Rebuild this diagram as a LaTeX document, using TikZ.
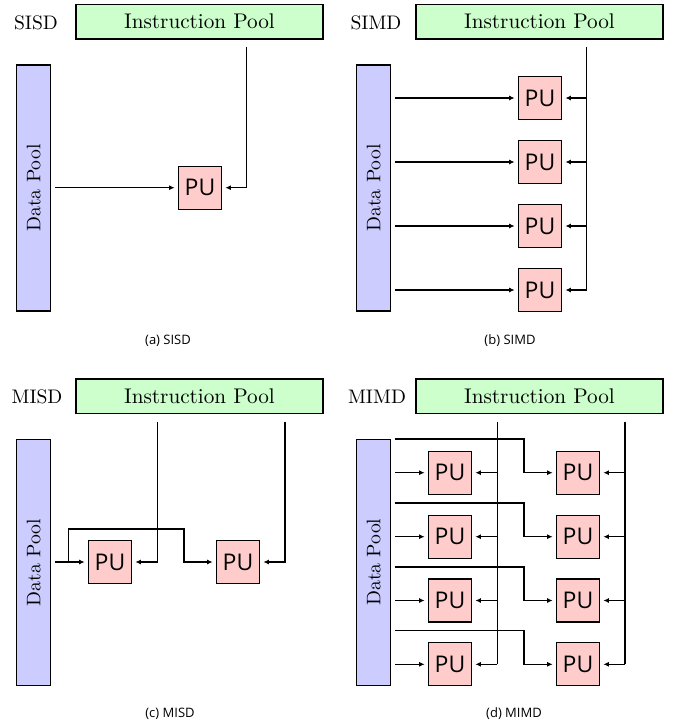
\documentclass[tikz,border=0pt]{standalone}
\usepackage{fontspec}
\newfontfamily\pufont{Open Sans}
\newfontfamily\cmten{lmroman10-regular.otf}
\usetikzlibrary{arrows.meta}
\definecolor{ipgreen}{RGB}{204,255,204}
\definecolor{dpblue}{RGB}{204,204,255}
\definecolor{pupink}{RGB}{255,204,204}
\newcommand{\serifbig}{\cmten\fontsize{19.6}{23}\selectfont}
\newcommand{\serifip}{\cmten\fontsize{21.2}{25}\selectfont}
\begin{document}
\begin{tikzpicture}[x=1pt,y=-1pt,
  ipool/.style={draw=black, line width=1.2pt, fill=ipgreen, minimum width=247pt, minimum height=34.5pt, inner sep=0pt, font=\serifip},
  dpool/.style={draw=black, line width=1.2pt, fill=dpblue, minimum width=34pt, minimum height=246pt, inner sep=0pt},
  dptext/.style={rotate=90, font=\serifbig, inner sep=0pt},
  pubox/.style={draw=black, line width=1.2pt, fill=pupink, minimum width=43.5pt, minimum height=43pt, inner sep=0pt, font=\pufont\fontsize{23}{26}\selectfont},
  plabel/.style={anchor=base, font=\serifbig, inner sep=0pt},
  caption/.style={font=\pufont\fontsize{13}{15}\selectfont, inner sep=0pt},
  conn/.style={line width=1.5pt},
  ar/.style={conn, -{Latex[length=5.5pt,width=5pt]}, shorten >=3pt},
  darr/.style={ar, shorten <=4pt}
]
\useasboundingbox (0,0) rectangle (684,726);

% ---------------- (a) SISD ----------------
\node[ipool] (ipA) at (199.5,21.7) {Instruction Pool};
\node[plabel] (labA) at (36,29.5) {SISD};
\node[dpool] (dpA) at (33.7,188) {};
\node[dptext] (dpAt) at (dpA) {Data Pool};
\node[pubox] (puA) at (200,187.7) {PU};
\draw[darr] (dpA.east |- puA.west) -- (puA.west);
\coordinate (iA) at (246.7,46.7);
\draw[ar] (iA) |- (puA.east);
\node[caption] (capA) at (168,341) {(a) SISD};

% ---------------- (b) SIMD ----------------
\node[ipool] (ipB) at (539.5,21.7) {Instruction Pool};
\node[plabel] (labB) at (376,29.5) {SIMD};
\node[dpool] (dpB) at (373.7,188) {};
\node[dptext] (dpBt) at (dpB) {Data Pool};
\foreach \k/\yy in {1/98,2/162,3/226,4/290}{
  \node[pubox] (puB\k) at (540,\yy) {PU};
}
\coordinate (iB) at (586.7,46.7);
\draw[conn] (iB) -- (iB |- puB4.east);
\foreach \k in {1,2,3,4}{
  \draw[darr] (dpB.east |- puB\k.west) -- (puB\k.west);
  \draw[ar] (iB |- puB\k.east) -- (puB\k.east);
}
\node[caption] (capB) at (510,341) {(b) SIMD};

% ---------------- (c) MISD ----------------
\node[ipool] (ipC) at (199.5,396.3) {Instruction Pool};
\node[plabel] (labC) at (37,403.5) {MISD};
\node[dpool] (dpC) at (33.7,562.7) {};
\node[dptext] (dpCt) at (dpC) {Data Pool};
\node[pubox] (puC1) at (110,562) {PU};
\node[pubox] (puC2) at (238,562) {PU};
\draw[darr] (dpC.east |- puC1.west) -- (puC1.west);
\coordinate (bC) at (68.3,562);
\coordinate (jC) at (184,529);
\draw[ar] (bC) |- (jC) |- (puC2.west);
\coordinate (iC1) at (157.3,421.7);
\coordinate (iC2) at (285,421.7);
\draw[ar] (iC1) |- (puC1.east);
\draw[ar] (iC2) |- (puC2.east);
\node[caption] (capC) at (170,714) {(c) MISD};

% ---------------- (d) MIMD ----------------
\node[ipool] (ipD) at (539.5,396.3) {Instruction Pool};
\node[plabel] (labD) at (377,403.5) {MIMD};
\node[dpool] (dpD) at (373.7,562.2) {};
\node[dptext] (dpDt) at (dpD) {Data Pool};
\coordinate (iD1) at (497.3,421.7);
\coordinate (iD2) at (625,421.7);
\foreach \k/\yy in {1/472.7,2/536.7,3/600.5,4/664.3}{
  \node[pubox] (puDL\k) at (450,\yy) {PU};
  \node[pubox] (puDR\k) at (578,\yy) {PU};
}
\draw[conn] (iD1) -- (iD1 |- puDL4.east);
\draw[conn] (iD2) -- (iD2 |- puDR4.east);
\foreach \k/\yy in {1/472.7,2/536.7,3/600.5,4/664.3}{
  \coordinate (bD\k) at (395,\yy-33.7);
  \coordinate (jD\k) at (524,\yy-33.7);
  \draw[darr] (dpD.east |- puDL\k.west) -- (puDL\k.west);
  \draw[ar] (bD\k) -- (jD\k) |- (puDR\k.west);
  \draw[ar] (iD1 |- puDL\k.east) -- (puDL\k.east);
  \draw[ar] (iD2 |- puDR\k.east) -- (puDR\k.east);
}
\node[caption] (capD) at (514,714) {(d) MIMD};
\end{tikzpicture}
\end{document}
